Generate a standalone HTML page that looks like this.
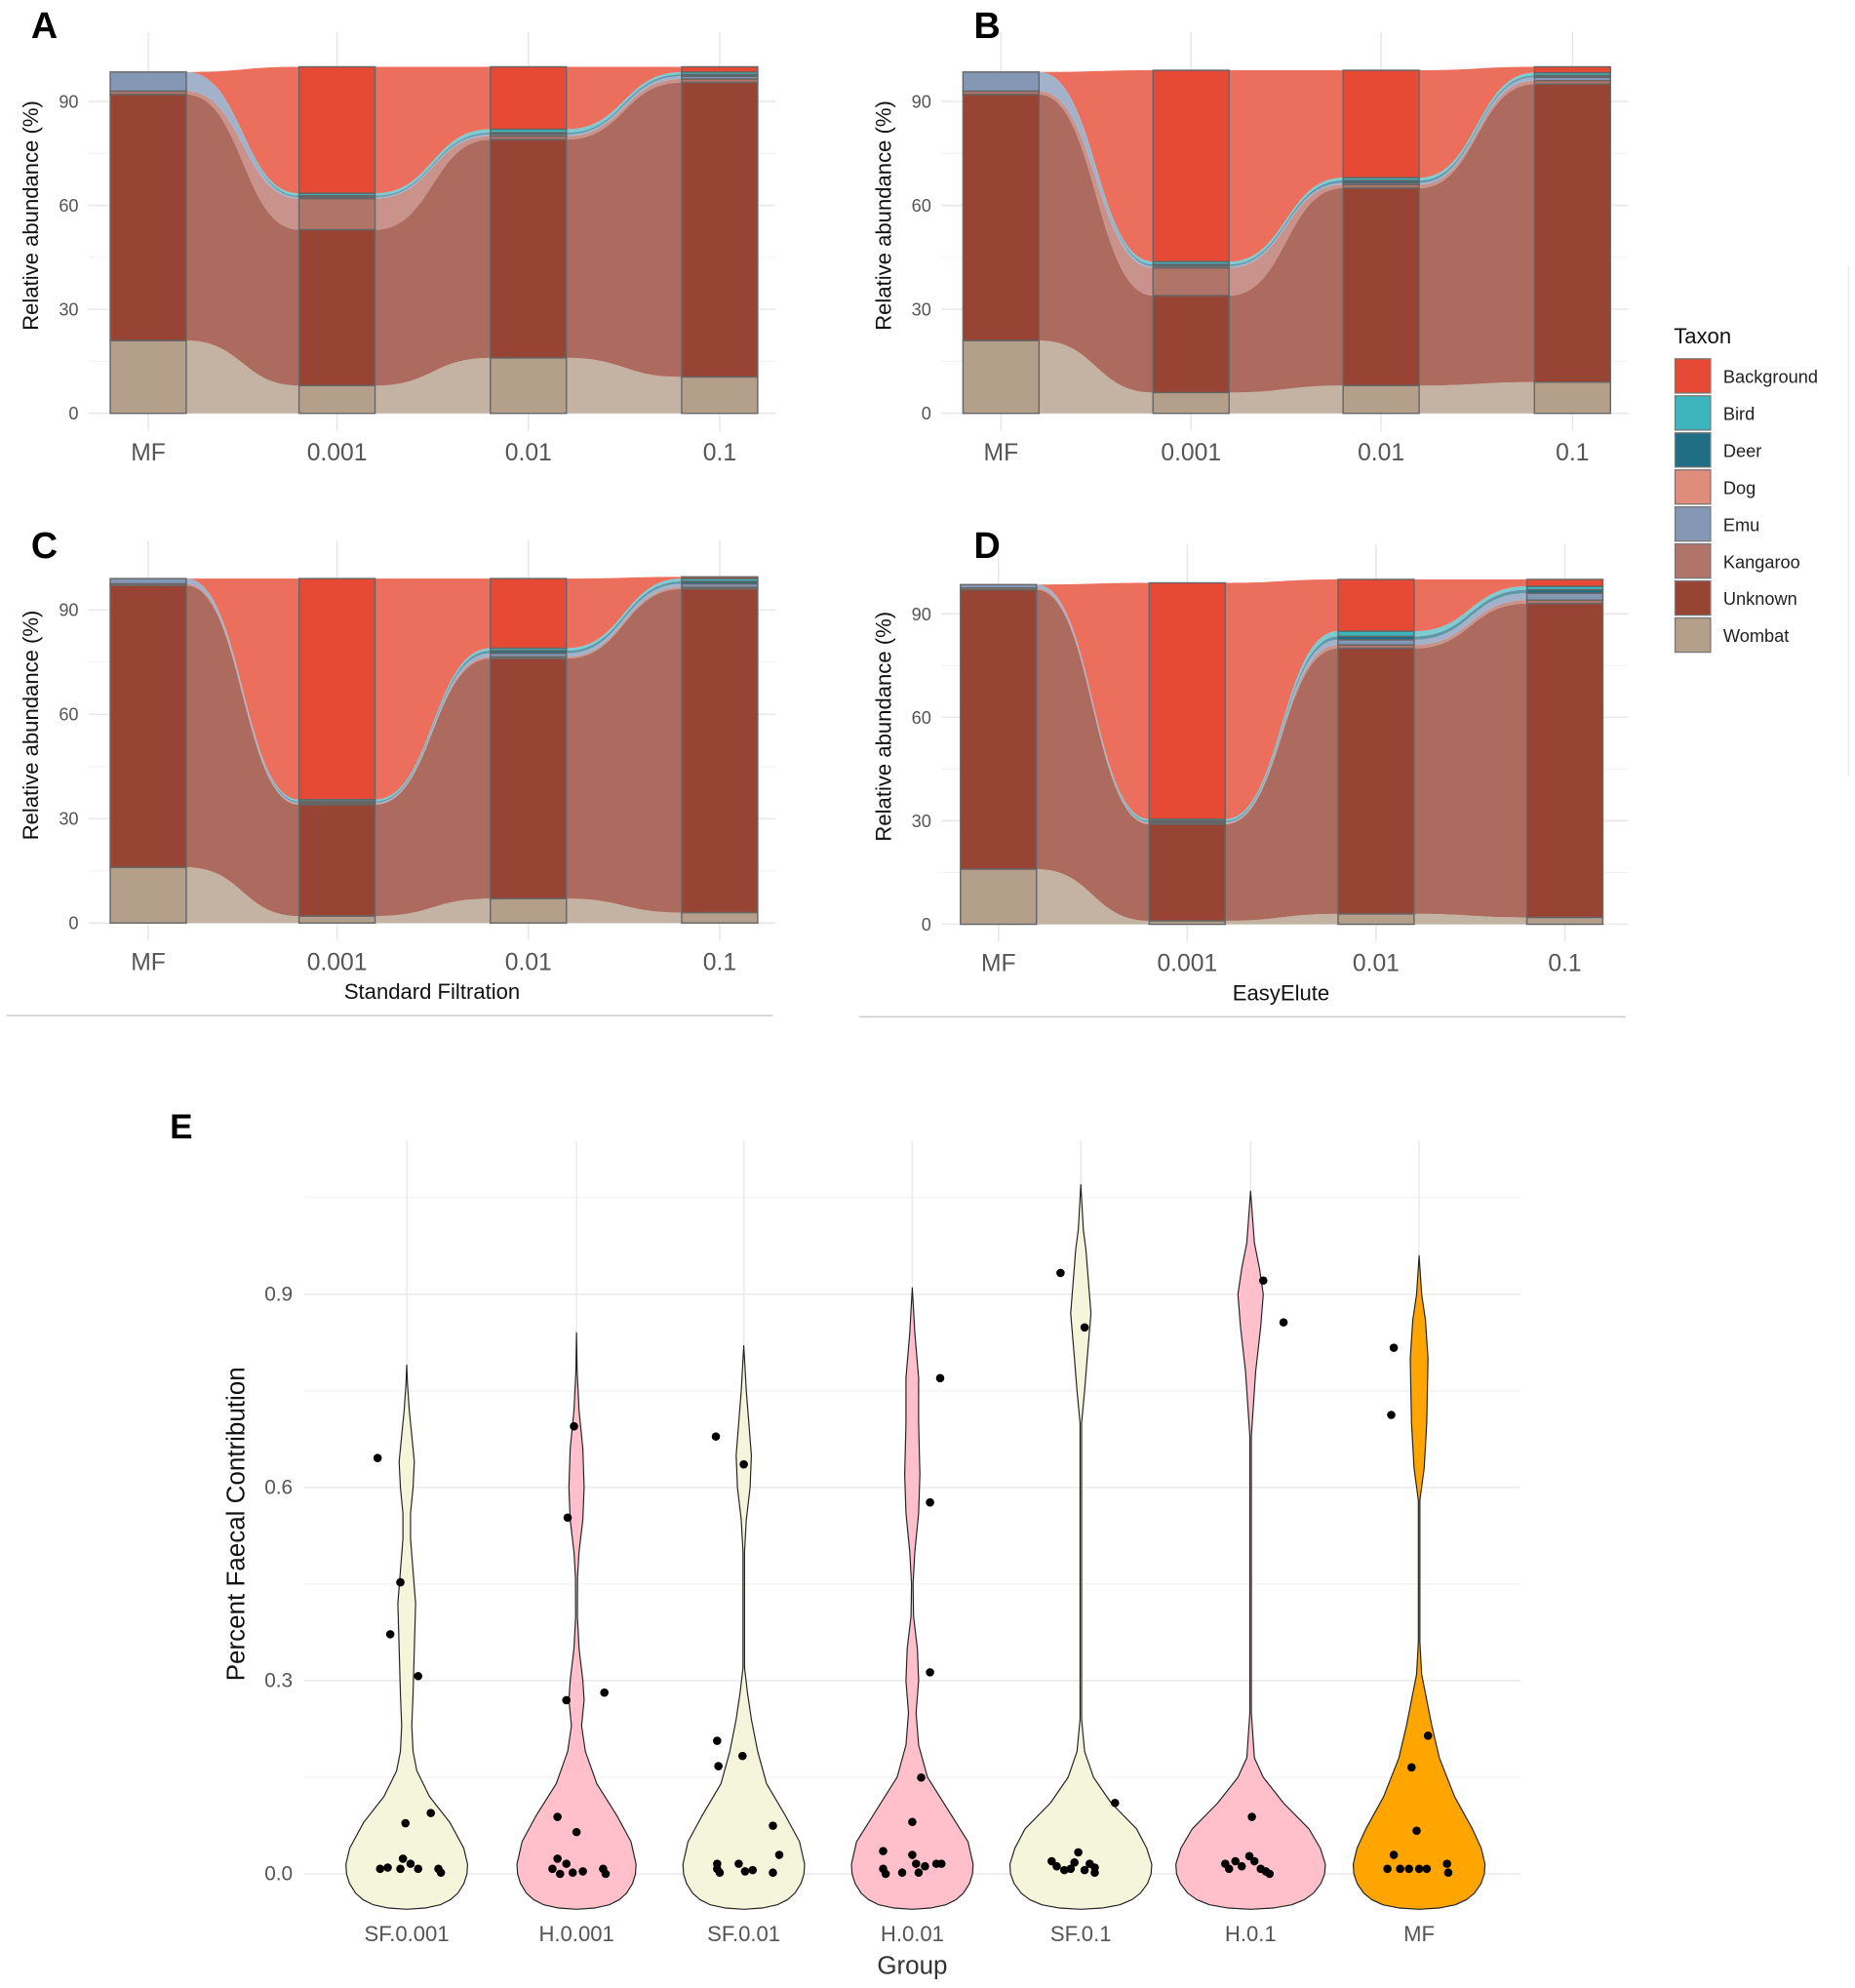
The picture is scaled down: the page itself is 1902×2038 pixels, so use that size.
<!DOCTYPE html>
<html><head><meta charset="utf-8"><style>
html,body{margin:0;padding:0;background:#fff;}
svg{display:block;}
text{font-family:"Liberation Sans",sans-serif;}
</style></head><body>
<svg id="s" width="1902" height="2038" viewBox="0 0 1464 1568" preserveAspectRatio="none" xmlns="http://www.w3.org/2000/svg"></svg>
<script>
const S=document.getElementById('s');let h='';
const cols=['#B4A08A','#984434','#B07468','#8497B5','#E08C7C','#1F6E85','#3DB5BE','#E64A35'];
const fcols=['#C4B3A2','#AC6B5E','#C9928A','#A3B2CB','#E9A89B','#5F97A8','#7CCCD2','#EC6E5C'];
function panel(P){
 const {x0,x1,y0,ppu,c,bars,lab,lx,ly,tx,title,tl}=P;
 const Y=v=>y0-v*ppu;
 for(const v of [15,45,75]) h+=`<line x1="${x0}" x2="${x1}" y1="${Y(v)}" y2="${Y(v)}" stroke="#F3F3F3" stroke-width="0.8"/>`;
 for(const v of [0,30,60,90]) h+=`<line x1="${x0}" x2="${x1}" y1="${Y(v)}" y2="${Y(v)}" stroke="#E8E8E8" stroke-width="1.2"/>`;
 for(const cx of c) h+=`<line x1="${cx}" x2="${cx}" y1="${Y(110)}" y2="${y0+14}" stroke="#E8E8E8" stroke-width="1.2"/>`;
 const hw=30;
 for(let i=0;i<3;i++){
  const a=bars[i],b=bars[i+1],xa=c[i]+hw,xb=c[i+1]-hw,xm=(xa+xb)/2;
  for(let k=0;k<8;k++){
   if(a[k+1]-a[k]<=0&&b[k+1]-b[k]<=0)continue;
   h+=`<path d="M${xa},${Y(a[k+1])} C${xm},${Y(a[k+1])} ${xm},${Y(b[k+1])} ${xb},${Y(b[k+1])} L${xb},${Y(b[k])} C${xm},${Y(b[k])} ${xm},${Y(a[k])} ${xa},${Y(a[k])}Z" fill="${fcols[k]}"/>`;
  }
 }
 for(let i=0;i<4;i++){const a=bars[i];
  for(let k=0;k<8;k++){if(a[k+1]-a[k]<=0)continue;
   h+=`<rect x="${c[i]-hw}" y="${Y(a[k+1])}" width="${2*hw}" height="${(a[k+1]-a[k])*ppu}" fill="${cols[k]}" stroke="#666" stroke-width="1.1"/>`;}
 }
 for(const v of [0,30,60,90]) h+=`<text x="${tx}" y="${Y(v)+5}" font-size="14" fill="#555" text-anchor="end">${v}</text>`;
 const xl=['MF','0.001','0.01','0.1'];
 for(let i=0;i<4;i++) h+=`<text x="${c[i]}" y="${y0+37}" font-size="19" fill="#555" text-anchor="middle">${xl[i]}</text>`;
 h+=`<text transform="translate(${tx-32},${y0-156}) rotate(-90)" font-size="17" fill="#111" text-anchor="middle">Relative abundance (%)</text>`;
 h+=`<text x="${lx}" y="${ly}" font-size="29" font-weight="bold" fill="#000" text-anchor="middle">${lab}</text>`;
 if(title){h+=`<text x="${title[1]}" y="${y0+60}" font-size="17" fill="#111" text-anchor="middle">${title[0]}</text>`;
  h+=`<line x1="${tl[0]}" x2="${tl[1]}" y1="${y0+73}" y2="${y0+73}" stroke="#CCC" stroke-width="1.2"/>`;}
}
const MF=[0,21,92,93,98.5,98.5,98.5,98.5,98.5];
panel({x0:70,x1:612,y0:326,ppu:2.733,c:[117,266,417,568],tx:62,lab:'A',lx:35,ly:30,bars:[MF,[0,8,53,62,62.4,62.4,62.8,63.5,100],[0,16,79,80,80.5,80.5,81,82,100],[0,10.5,95.5,96.5,97.3,97.3,97.8,98.5,100]]});
panel({x0:743,x1:1285,y0:326,ppu:2.733,c:[790,940,1090,1241],tx:735,lab:'B',lx:779,ly:30,bars:[MF,[0,6,34,42,42.5,42.5,43,43.8,99],[0,8,65,66,66.5,66.5,67.2,68,99],[0,9,95,96,97,97,97.5,98.3,100]]});
panel({x0:70,x1:612,y0:728,ppu:2.744,c:[117,266,417,568],tx:62,lab:'C',lx:35,ly:440,title:['Standard Filtration',341],tl:[5,610],bars:[[0,16,97,97.5,99,99,99,99,99],[0,2,34,34.3,34.6,34.6,35,35.5,99],[0,7,76,76.5,77.5,77.5,78.3,79,99],[0,3,96,96.5,97.5,97.5,98.2,99,99.5]]});
panel({x0:743,x1:1285,y0:729,ppu:2.72,c:[788,937,1086,1235],tx:735,lab:'D',lx:779,ly:440,title:['EasyElute',1011],tl:[678,1283],bars:[[0,16,97,97.5,98.5,98.5,98.5,98.5,98.5],[0,1,29,29.3,29.6,29.6,30,30.5,99],[0,3,80,81,82.5,82.5,83.5,85,100],[0,2,93,94,96,96,97,98,100]]});
h+=`<text x="1321" y="271" font-size="17" fill="#111">Taxon</text>`;
const ln=['Background','Bird','Deer','Dog','Emu','Kangaroo','Unknown','Wombat'];
const lc=['#E64A35','#3DB5BE','#1F6E85','#E08C7C','#8497B5','#B07468','#984434','#B4A08A'];
for(let i=0;i<8;i++){const y=283+i*29.2;
 h+=`<rect x="1322" y="${y}" width="28" height="27" fill="${lc[i]}" stroke="#777" stroke-width="1"/>`;
 h+=`<text x="1360" y="${y+19}" font-size="14" fill="#222">${ln[i]}</text>`;}
h+=`<line x1="1459" x2="1459" y1="210" y2="612" stroke="#EEE" stroke-width="1.5"/>`;
const Y=v=>1478-508*v;
for(const v of [0.15,0.45,0.75,1.05]) h+=`<line x1="240" x2="1200" y1="${Y(v)}" y2="${Y(v)}" stroke="#F2F2F2" stroke-width="1"/>`;
for(const v of [0,0.3,0.6,0.9]) h+=`<line x1="240" x2="1200" y1="${Y(v)}" y2="${Y(v)}" stroke="#EAEAEA" stroke-width="1.2"/>`;
const gx=[321,455,587,720,853,987,1120];
for(const x of gx) h+=`<line x1="${x}" x2="${x}" y1="900" y2="1505" stroke="#EAEAEA" stroke-width="1.2"/>`;
function violin(cx,W,tail,fill){
 const prof=[[-0.055,0],[-0.053,0.3*W],[-0.048,0.55*W],[-0.04,0.72*W],[-0.03,0.84*W],[-0.015,0.94*W],[0,0.99*W],[0.015,W]].concat(tail);
 let L=[],R=[];
 for(const [v,w] of prof){R.push(`${cx+w},${Y(v)}`);L.unshift(`${cx-w},${Y(v)}`);}
 h+=`<path d="M${R.join(' L')} L${L.join(' L')}Z" fill="${fill}" stroke="#222" stroke-width="0.9" stroke-linejoin="round"/>`;
}
const ivory='#F5F5DC',pink='#FFC0CB',orange='#FFA500';
violin(321,48,[[0.04,45],[0.08,34],[0.12,18],[0.16,8],[0.19,5],[0.23,4],[0.28,5],[0.35,6],[0.42,7],[0.47,5],[0.52,3],[0.56,3],[0.6,5],[0.64,6],[0.68,4],[0.72,2],[0.76,0.6],[0.79,0]],ivory);
violin(455,47,[[0.05,43],[0.09,32],[0.14,16],[0.19,7],[0.23,4],[0.27,6],[0.3,5],[0.35,2],[0.4,0.7],[0.46,0.8],[0.5,2],[0.55,5],[0.6,6],[0.66,5],[0.72,2],[0.78,0.5],[0.84,0]],pink);
violin(587,48,[[0.05,44],[0.09,33],[0.14,18],[0.19,11],[0.24,6],[0.28,3],[0.32,0.6],[0.5,0.6],[0.55,2],[0.6,5],[0.65,6],[0.7,4],[0.75,2],[0.82,0]],ivory);
violin(720,48,[[0.05,44],[0.1,28],[0.15,12],[0.2,5],[0.25,3],[0.3,5],[0.35,4],[0.4,1],[0.45,0.6],[0.5,2],[0.56,5],[0.62,6],[0.7,5],[0.77,5],[0.84,2],[0.91,0]],pink);
violin(853,56,[[0.04,52],[0.07,44],[0.11,24],[0.15,10],[0.19,3],[0.24,0.6],[0.7,0.6],[0.75,3],[0.8,5],[0.87,8],[0.92,6],[0.97,4],[1.0,2],[1.07,0]],ivory);
violin(987,59,[[0.04,55],[0.07,46],[0.11,26],[0.15,10],[0.18,3],[0.25,0.6],[0.68,0.6],[0.78,4],[0.85,8],[0.9,10],[0.94,7],[0.98,3],[1.06,0]],pink);
violin(1120,52,[[0.04,49],[0.07,42],[0.12,28],[0.18,16],[0.23,10],[0.28,5],[0.31,2],[0.36,0.6],[0.58,0.6],[0.63,4],[0.7,6],[0.8,7],[0.86,5],[0.9,2],[0.96,0]],orange);
const pts=[[298,1150],[316,1248],[308,1289],[330,1322],[320,1438],[340,1430],[300,1474],[306,1473],[316,1474],[318,1466],[324,1470],[330,1474],[346,1474],[348,1477],
[453,1125],[448,1197],[447,1341],[477,1335],[440,1433],[455,1445],[436,1474],[442,1478],[447,1470],[452,1477],[460,1476],[476,1474],[478,1478],[440,1466],
[565,1133],[587,1155],[566,1373],[567,1393],[586,1385],[610,1440],[615,1463],[566,1474],[568,1477],[583,1470],[588,1476],[594,1475],[610,1477],[566,1470],
[742,1087],[734,1185],[734,1319],[727,1402],[720,1437],[697,1460],[697,1474],[699,1478],[712,1477],[720,1463],[723,1470],[725,1477],[730,1472],[739,1470],[743,1470],
[837,1004],[856,1047],[880,1422],[830,1468],[834,1472],[840,1475],[845,1474],[848,1469],[856,1475],[860,1470],[864,1473],[864,1477],[851,1461],
[997,1010],[1013,1043],[988,1433],[967,1470],[970,1474],[975,1468],[980,1472],[986,1464],[990,1468],[995,1474],[999,1476],[1002,1478],
[1100,1063],[1098,1116],[1127,1369],[1114,1394],[1118,1444],[1100,1463],[1095,1474],[1105,1474],[1112,1474],[1120,1474],[1126,1474],[1142,1470],[1143,1477]];
for(const [x,y] of pts) h+=`<circle cx="${x}" cy="${y}" r="3.3" fill="#000"/>`;
for(const v of [0,0.3,0.6,0.9]) h+=`<text x="231" y="${Y(v)+5}" font-size="16" fill="#555" text-anchor="end">${v.toFixed(1)}</text>`;
const gl=['SF.0.001','H.0.001','SF.0.01','H.0.01','SF.0.1','H.0.1','MF'];
for(let i=0;i<7;i++) h+=`<text x="${gx[i]}" y="${1531}" font-size="17" fill="#555" text-anchor="middle">${gl[i]}</text>`;
h+=`<text x="720" y="1557" font-size="20" fill="#333" text-anchor="middle">Group</text>`;
h+=`<text transform="translate(193,1202) rotate(-90)" font-size="20" fill="#111" text-anchor="middle">Percent Faecal Contribution</text>`;
h+=`<text x="143" y="898" font-size="27" font-weight="bold" fill="#000" text-anchor="middle">E</text>`;
S.innerHTML=h;
</script>
</body></html>
